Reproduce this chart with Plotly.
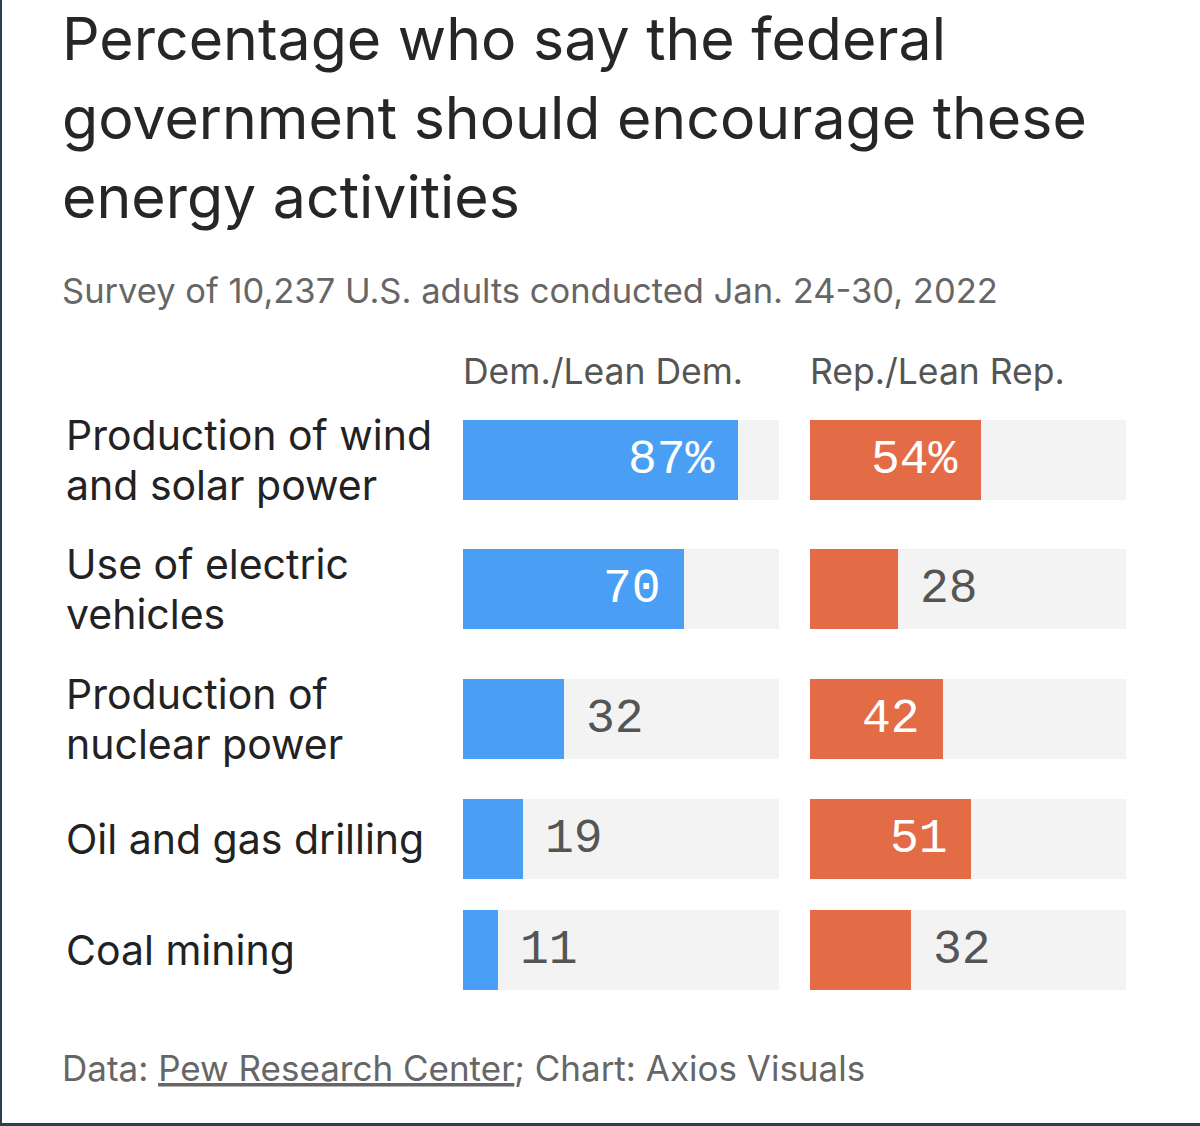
import plotly.graph_objects as go

# ---- data ----
categories = [
    "Production of wind<br>and solar power",
    "Use of electric<br>vehicles",
    "Production of<br>nuclear power",
    "Oil and gas drilling",
    "Coal mining",
]
dem_values = [87, 70, 32, 19, 11]
rep_values = [54, 28, 42, 51, 32]
series_names = ["Dem./Lean Dem.", "Rep./Lean Rep."]

title_lines = ["Percentage who say the federal",
               "government should encourage these",
               "energy activities"]
subtitle_text = "Survey of 10,237 U.S. adults conducted Jan. 24-30, 2022"
footer_text = "Data: <u>Pew Research Center</u>; Chart: Axios Visuals"

# ---- layout constants (pixel space) ----
W, H = 1200, 1126
row_y = [459.5, 589, 718.5, 838.5, 949.5]   # row centres in px
bar_h = 80
label_line_gap = 50
dem_dom = [463 / W, 779 / W]
rep_dom = [810 / W, 1126 / W]

BLUE = "#4a9ff5"
ORANGE = "#e36c47"
TRACK = "#f3f3f3"
SANS = "Inter, Roboto, sans-serif"
MONO = "Liberation Mono, DejaVu Sans Mono, monospace"

fig = go.Figure()
for xa, vals, col in (("x", dem_values, BLUE), ("x2", rep_values, ORANGE)):
    fig.add_trace(go.Bar(x=[100] * len(vals), y=row_y, orientation="h", width=bar_h,
                         marker=dict(color=TRACK, line=dict(width=0)), xaxis=xa, yaxis="y",
                         hoverinfo="skip", showlegend=False))
    fig.add_trace(go.Bar(x=vals, y=row_y, orientation="h", width=bar_h,
                         marker=dict(color=col, line=dict(width=0)), xaxis=xa, yaxis="y",
                         showlegend=False))

ann = []
for xa, vals in (("x", dem_values), ("x2", rep_values)):
    for i, (v, yy) in enumerate(zip(vals, row_y)):
        txt = f"{v}%" if i == 0 else f"{v}"
        inside = v >= 40
        ann.append(dict(xref=xa, yref="y", x=v, y=yy, text=txt, showarrow=False,
                        xanchor="right" if inside else "left", yanchor="middle",
                        xshift=-21 if inside else 20,
                        font=dict(family=MONO, size=48, color="#ffffff" if inside else "#555555")))

for cat, yy in zip(categories, row_y):
    lines = cat.split("<br>")
    n = len(lines)
    for j, ln in enumerate(lines):
        ly = yy + (j - (n - 1) / 2) * label_line_gap
        ann.append(dict(xref="paper", yref="y", x=64 / W, y=ly, text=ln, showarrow=False,
                        xanchor="left", yanchor="middle", align="left",
                        font=dict(family=SANS, size=41, color="#222222")))

# column headers
for name, dom in zip(series_names, (dem_dom, rep_dom)):
    ann.append(dict(xref="paper", yref="y", x=dom[0] - 2 / W, y=371, text=name, showarrow=False,
                    xanchor="left", yanchor="middle",
                    font=dict(family=SANS, size=35.5, color="#555555")))

# title / subtitle / footer
for k, line in enumerate(title_lines):
    ann.append(dict(xref="paper", yref="y", x=60 / W, y=38 + 79 * k, text=line, showarrow=False,
                    xanchor="left", yanchor="middle", align="left",
                    font=dict(family=SANS, size=59, color="#262626")))
ann.append(dict(xref="paper", yref="y", x=60 / W, y=290, text=subtitle_text, showarrow=False,
                xanchor="left", yanchor="middle",
                font=dict(family=SANS, size=34.5, color="#666666")))
ann.append(dict(xref="paper", yref="y", x=60 / W, y=1068, text=footer_text, showarrow=False,
                xanchor="left", yanchor="middle",
                font=dict(family=SANS, size=35, color="#666666")))

fig.update_layout(
    width=W, height=H,
    margin=dict(l=0, r=0, t=0, b=0),
    paper_bgcolor="white", plot_bgcolor="white",
    barmode="overlay", bargap=0,
    xaxis=dict(domain=dem_dom, range=[0, 100], visible=False, fixedrange=True),
    xaxis2=dict(domain=rep_dom, range=[0, 100], visible=False, anchor="y", fixedrange=True),
    yaxis=dict(domain=[0, 1], range=[H, 0], visible=False, fixedrange=True),
    annotations=ann,
    shapes=[
        dict(type="rect", xref="paper", yref="paper", x0=0, x1=2 / W, y0=0, y1=1,
             fillcolor="#2f3e4c", line=dict(width=0)),
        dict(type="rect", xref="paper", yref="paper", x0=0, x1=1, y0=0, y1=3 / H,
             fillcolor="#2f3e4c", line=dict(width=0)),
    ],
)

fig.write_html("out.html", config={"displayModeBar": False},
               post_script="document.body.style.margin='0';")
